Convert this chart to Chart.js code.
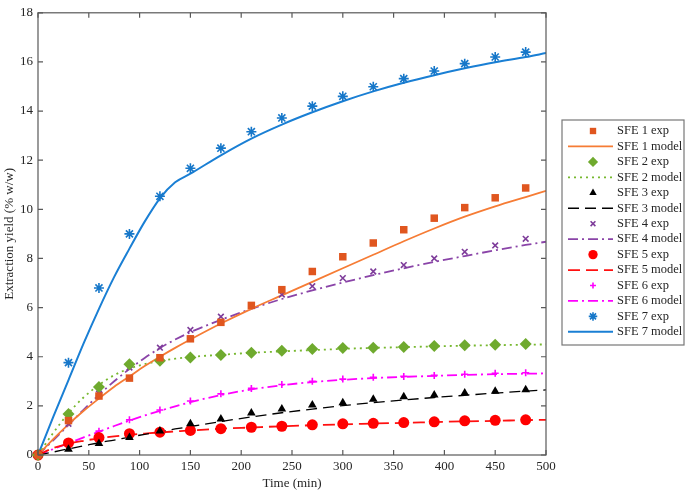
<!DOCTYPE html>
<html lang="en">
<head>
<meta charset="UTF-8">
<title>SFE extraction yield</title>
<script src="https://cdn.jsdelivr.net/npm/chart.js"></script>
<style>
  html, body { margin: 0; padding: 0; background: #fff; }
</style>
</head>
<body>
<div style="width: 687px; height: 495px;">
  <canvas id="sfeChart" width="687" height="495"></canvas>
</div>
<script>
// sampling times (min)
const expTimes = [0, 30, 60, 90, 120, 150, 180, 210, 240, 270, 300, 330, 360, 390, 420, 450, 480];
const modelTimes = [0, 15, 30, 45, 60, 75, 90, 105, 120, 135, 150, 180, 210, 240, 270, 300, 330, 360, 390, 420, 450, 480, 500];

// experimental yields (% w/w)
const sfe1Exp = [0, 1.4, 2.4, 3.13, 3.96, 4.73, 5.4, 6.09, 6.73, 7.47, 8.07, 8.63, 9.17, 9.64, 10.07, 10.47, 10.87];
const sfe2Exp = [0, 1.67, 2.77, 3.69, 3.84, 3.97, 4.07, 4.16, 4.24, 4.31, 4.36, 4.37, 4.4, 4.44, 4.47, 4.49, 4.52];
const sfe3Exp = [0, 0.23, 0.47, 0.71, 0.98, 1.27, 1.47, 1.71, 1.87, 2.04, 2.13, 2.27, 2.37, 2.44, 2.52, 2.6, 2.66];
const sfe4Exp = [0, 1.27, 2.5, 3.56, 4.37, 5.09, 5.63, 6.09, 6.53, 6.87, 7.2, 7.47, 7.73, 8.0, 8.27, 8.53, 8.8];
const sfe5Exp = [0, 0.49, 0.71, 0.87, 0.93, 1.0, 1.07, 1.13, 1.17, 1.23, 1.27, 1.29, 1.32, 1.35, 1.39, 1.41, 1.43];
const sfe6Exp = [0, 0.5, 0.97, 1.43, 1.83, 2.2, 2.49, 2.71, 2.87, 3.0, 3.09, 3.16, 3.2, 3.24, 3.29, 3.33, 3.35];
const sfe7Exp = [0, 3.76, 6.8, 9.0, 10.53, 11.67, 12.49, 13.16, 13.72, 14.2, 14.6, 14.99, 15.32, 15.63, 15.93, 16.2, 16.4];

// model curves (% w/w) at modelTimes
const sfe1Model = [0, 0.65, 1.25, 1.8, 2.3, 2.78, 3.2, 3.62, 4.0, 4.36, 4.7, 5.35, 5.95, 6.5, 7.05, 7.6, 8.15, 8.7, 9.22, 9.7, 10.12, 10.5, 10.75];
const sfe2Model = [0, 0.9, 1.7, 2.35, 2.85, 3.25, 3.52, 3.7, 3.83, 3.92, 3.99, 4.08, 4.16, 4.22, 4.27, 4.32, 4.36, 4.39, 4.42, 4.45, 4.47, 4.49, 4.5];
const sfe3Model = [0, 0.12, 0.25, 0.37, 0.5, 0.61, 0.73, 0.84, 0.95, 1.06, 1.16, 1.36, 1.55, 1.72, 1.87, 2.01, 2.13, 2.24, 2.34, 2.43, 2.52, 2.6, 2.65];
const sfe4Model = [0, 0.6, 1.22, 1.85, 2.45, 3.0, 3.5, 3.95, 4.35, 4.7, 5.0, 5.5, 5.95, 6.35, 6.7, 7.02, 7.32, 7.6, 7.86, 8.1, 8.33, 8.55, 8.68];
const sfe5Model = [0, 0.28, 0.46, 0.58, 0.68, 0.76, 0.82, 0.87, 0.92, 0.96, 1.0, 1.07, 1.12, 1.17, 1.21, 1.25, 1.28, 1.31, 1.34, 1.37, 1.39, 1.42, 1.43];
const sfe6Model = [0, 0.24, 0.48, 0.72, 0.95, 1.18, 1.4, 1.61, 1.8, 1.98, 2.15, 2.44, 2.67, 2.84, 2.97, 3.06, 3.13, 3.18, 3.22, 3.26, 3.29, 3.31, 3.32];
const sfe7Model = [0, 1.55, 3.05, 4.55, 5.95, 7.25, 8.4, 9.5, 10.45, 11.1, 11.45, 12.2, 12.88, 13.45, 13.95, 14.4, 14.8, 15.15, 15.46, 15.74, 15.99, 16.2, 16.36];

const xTicks = [0, 50, 100, 150, 200, 250, 300, 350, 400, 450, 500];
const yTicks = [0, 2, 4, 6, 8, 10, 12, 14, 16, 18];

const font = "'Liberation Serif', 'Times New Roman', serif";
const axisColor = '#595959';
const textColor = '#262626';

const pts = (xs, ys) => xs.map((x, i) => ({ x: x, y: ys[i] }));

function expSet(label, ys, color, style, radius, filled) {
    return {
        type: 'scatter',
        label: label,
        data: pts(expTimes, ys),
        pointStyle: style,
        pointRadius: radius,
        pointBackgroundColor: filled ? color : 'transparent',
        pointBorderColor: color,
        pointBorderWidth: filled ? 0 : 1.6,
        showLine: false,
        clip: false,
        order: 1,
    };
}

function modelSet(label, ys, color, dash, width) {
    return {
        type: 'line',
        label: label,
        data: pts(modelTimes, ys),
        borderColor: color,
        borderWidth: width,
        borderDash: dash,
        pointRadius: 0,
        fill: false,
        cubicInterpolationMode: 'monotone',
        order: 2,
    };
}

const datasets = [
    expSet('SFE 1 exp', sfe1Exp, '#E0561F', 'rect', 5.3, true),
    modelSet('SFE 1 model', sfe1Model, '#F67C35', [], 1.8),
    expSet('SFE 2 exp', sfe2Exp, '#6FAA2E', 'rectRot', 6, true),
    modelSet('SFE 2 model', sfe2Model, '#77B82F', [2, 4], 1.8),
    expSet('SFE 3 exp', sfe3Exp, '#000000', 'triangle', 5, true),
    modelSet('SFE 3 model', sfe3Model, '#000000', [11, 6], 1.3),
    expSet('SFE 4 exp', sfe4Exp, '#7E3C9A', 'crossRot', 4, false),
    modelSet('SFE 4 model', sfe4Model, '#8A44A8', [10, 4, 2, 4], 1.8),
    expSet('SFE 5 exp', sfe5Exp, '#FF0000', 'circle', 5.5, true),
    modelSet('SFE 5 model', sfe5Model, '#FF1010', [12, 6], 1.8),
    expSet('SFE 6 exp', sfe6Exp, '#FF00FF', 'cross', 3.5, false),
    modelSet('SFE 6 model', sfe6Model, '#FF00FF', [10, 4, 2, 4], 1.8),
    expSet('SFE 7 exp', sfe7Exp, '#1677C9', 'star', 5, false),
    modelSet('SFE 7 model', sfe7Model, '#1A7FD4', [], 2),
];

// box around the axes with inward ticks, plus the legend box on the right
const framePlugin = {
    id: 'frame',
    afterDraw(chart) {
        const { ctx, chartArea: a, scales } = chart;
        ctx.save();
        ctx.strokeStyle = axisColor;
        ctx.lineWidth = 1.2;
        ctx.strokeRect(a.left, a.top, a.right - a.left, a.bottom - a.top);
        ctx.beginPath();
        xTicks.forEach(v => {
            const x = scales.x.getPixelForValue(v);
            ctx.moveTo(x, a.bottom); ctx.lineTo(x, a.bottom - 5);
            ctx.moveTo(x, a.top); ctx.lineTo(x, a.top + 5);
        });
        yTicks.forEach(v => {
            const y = scales.y.getPixelForValue(v);
            ctx.moveTo(a.left, y); ctx.lineTo(a.left + 5, y);
            ctx.moveTo(a.right, y); ctx.lineTo(a.right - 5, y);
        });
        ctx.stroke();

        // legend
        const lx = 562, ly = 120, lw = 122, lh = 225;
        ctx.fillStyle = '#fff';
        ctx.fillRect(lx, ly, lw, lh);
        ctx.strokeStyle = '#777';
        ctx.lineWidth = 1.2;
        ctx.strokeRect(lx, ly, lw, lh);
        const step = 15.45;
        chart.data.datasets.forEach((ds, i) => {
            const y = ly + 11 + i * step;
            if (ds.type === 'scatter') {
                ctx.fillStyle = ds.pointBackgroundColor;
                ctx.strokeStyle = ds.pointBorderColor;
                ctx.lineWidth = ds.pointBorderWidth;
                Chart.helpers.drawPoint(ctx, {
                    pointStyle: ds.pointStyle,
                    radius: ds.pointRadius * 0.85,
                    borderWidth: ds.pointBorderWidth,
                    rotation: 0,
                }, lx + 31, y);
            } else {
                ctx.strokeStyle = ds.borderColor;
                ctx.lineWidth = ds.borderWidth;
                ctx.setLineDash(ds.borderDash);
                ctx.beginPath();
                ctx.moveTo(lx + 6, y);
                ctx.lineTo(lx + 51, y);
                ctx.stroke();
                ctx.setLineDash([]);
            }
            ctx.fillStyle = textColor;
            ctx.font = '12.5px ' + font;
            ctx.textAlign = 'left';
            ctx.textBaseline = 'middle';
            ctx.fillText(ds.label, lx + 55, y);
        });
        ctx.restore();
    }
};

const ctx = document.getElementById('sfeChart').getContext('2d');
new Chart(ctx, {
    data: { datasets: datasets },
    options: {
        responsive: false,
        animation: false,
        layout: { padding: { left: 0, right: 141, top: 5, bottom: 0 } },
        plugins: {
            legend: { display: false },
            tooltip: { enabled: false },
        },
        scales: {
            x: {
                type: 'linear',
                min: 0,
                max: 500,
                afterBuildTicks: (scale) => { scale.ticks = xTicks.map(v => ({ value: v })); },
                afterFit: (scale) => { scale.height = 40; },
                grid: { display: false, drawTicks: false },
                border: { display: false },
                ticks: { color: textColor, font: { family: font, size: 13 }, padding: 4, maxRotation: 0 },
                title: { display: true, text: 'Time (min)', color: textColor, font: { family: font, size: 13 }, padding: { top: 0, bottom: 4 } },
            },
            y: {
                type: 'linear',
                min: 0,
                max: 18,
                afterBuildTicks: (scale) => { scale.ticks = yTicks.map(v => ({ value: v })); },
                afterFit: (scale) => { scale.width = 38; },
                grid: { display: false, drawTicks: false },
                border: { display: false },
                ticks: { color: textColor, font: { family: font, size: 13 }, padding: 5 },
                title: { display: true, text: 'Extraction yield (% w/w)', color: textColor, font: { family: font, size: 13 }, padding: { top: 2, bottom: 0 } },
            },
        },
    },
    plugins: [framePlugin],
});
</script>
</body>
</html>
